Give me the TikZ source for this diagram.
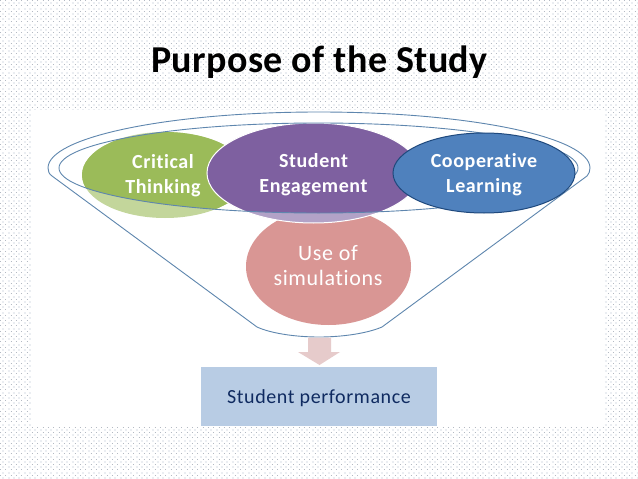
\documentclass[tikz,border=0pt]{standalone}
\usepackage{fontspec}
\setmainfont{Carlito}[Ligatures=NoCommon,LetterSpace=3]
\newfontfamily\titlefont{Carlito}[Ligatures=NoCommon,LetterSpace=1]
\usetikzlibrary{shapes.geometric}
\definecolor{greenfull}{HTML}{9BBB59}
\definecolor{greenlight}{HTML}{C3D69B}
\definecolor{purplefull}{HTML}{7E60A0}
\definecolor{purplelight}{HTML}{B2A2C7}
\definecolor{pinkfill}{HTML}{D99694}
\definecolor{bluefill}{HTML}{4F81BD}
\definecolor{blueedge}{HTML}{1F497D}
\definecolor{funnelline}{HTML}{5E86AE}
\definecolor{boxfill}{HTML}{B8CCE4}
\definecolor{boxtext}{HTML}{0F2A60}
\definecolor{arrowfill}{HTML}{E6CBCB}
\definecolor{dotdark}{HTML}{B4BAC3}
\definecolor{dotlight}{HTML}{EBEEF2}
\tikzset{
  blob/.style={ellipse,inner sep=0pt},
  blobtext/.style={inner sep=0pt,align=center,font=\fontsize{20}{25}\selectfont\bfseries,text=white},
  funnel/.style={draw=funnelline,line width=0.9pt},
  dotlightrow/.style={draw=dotlight,line width=2pt,dash pattern=on 2pt off 3.333pt},
  dotdarkrow/.style={draw=dotdark,line width=1pt,dash pattern=on 1pt off 4.333pt},
}
\begin{document}
\begin{tikzpicture}[x=1pt,y=-1pt]
\useasboundingbox (0,0) rectangle (638,479);
\fill[white] (0,0) rectangle (638,479);
% dotted background
\foreach \j in {0,...,90} {
  \draw[dotlightrow] (2.2,{\j*5.333+3.2}) -- (638,{\j*5.333+3.2});
  \draw[dotdarkrow] (0,{\j*5.333+0.5}) -- (638,{\j*5.333+0.5});
}
\fill[white] (31,110) rectangle (604,426);
% title
\node[font=\fontsize{38}{42}\selectfont\titlefont\bfseries,text=black] (title) at (319.5,62) {Purpose of the Study};
% bubbles: pale parts outside the funnel mouth
\node[blob,fill=greenlight,minimum width=166pt,minimum height=86pt] (greenpale) at (165,175) {};
\node[blob,fill=pinkfill,minimum width=165pt,minimum height=117pt] (use) at (328.5,266.5) {};
\node[blob,fill=purplelight,draw=white,line width=1pt,minimum width=213pt,minimum height=100pt] (purplepale) at (313.5,173) {};
\begin{scope}
  \clip (318.5,168) ellipse [x radius=259.5,y radius=45];
  \node[blob,fill=greenfull,minimum width=166pt,minimum height=86pt] (critical) at (165,175) {};
  \node[blob,fill=purplefull,draw=white,line width=1pt,minimum width=213pt,minimum height=100pt] (engage) at (313.5,173) {};
\end{scope}
\node[blobtext,font=\fontsize{22}{25.5}\selectfont] (usetext) at ([yshift=1pt,xshift=-0.5pt]use.center) {Use of\\simulations};
\node[blobtext] (criticaltext) at ([xshift=-2pt,yshift=-1pt]critical.center) {Critical\\Thinking};
\node[blobtext] (engagetext) at ([yshift=-1.5pt]engage.center) {Student\\Engagement};
% funnel
\coordinate (tipL) at (48,168);
\coordinate (tipR) at (590,168);
\coordinate (botL) at (257,327);
\coordinate (botR) at (382,327);
\draw[funnel] (tipL) .. controls (48,137) and (169,112) .. (319,112)
  .. controls (469,112) and (590,137) .. (tipR)
  .. controls (590,171) and (589,174) .. (587,176) -- (botR)
  .. controls (368,333) and (344,337) .. (319,337)
  .. controls (294,337) and (270,333) .. (botL) -- (52,176)
  .. controls (49,174) and (48,171) .. (tipL) -- cycle;
\draw[funnel] (318.5,168) ellipse [x radius=259.5,y radius=45];
% cooperative
\node[blob,fill=bluefill,draw=blueedge,line width=1pt,minimum width=182pt,minimum height=80pt] (coop) at (484,173) {};
\node[blobtext] (cooptext) at ([yshift=-2pt]coop.center) {Cooperative\\Learning};
% arrow and result box
\node[rectangle,fill=boxfill,minimum width=236pt,minimum height=59pt,inner sep=0pt] (perf) at (319,396.5) {};
\node[inner sep=0pt,text=boxtext,font=\fontsize{20}{24}\selectfont] (perftext) at ([yshift=-2pt]perf.center) {Student performance};
\fill[arrowfill] (308,337.5) -- (331,337.5) -- (331,352) -- (340,352) -- (319.5,365) -- (298,352) -- (308,352) -- cycle;
\end{tikzpicture}
\end{document}
